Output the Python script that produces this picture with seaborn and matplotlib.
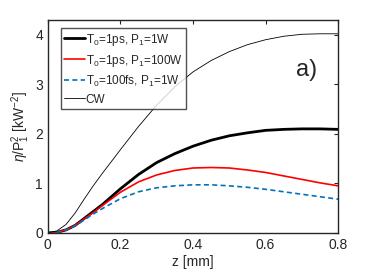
import matplotlib
matplotlib.use("Agg")
import matplotlib.pyplot as plt
import pandas as pd
import seaborn as sns

z = [0, 0.025, 0.05, 0.075, 0.1, 0.125, 0.15, 0.2, 0.25, 0.3, 0.35, 0.4, 0.45, 0.5, 0.55, 0.6, 0.65, 0.7, 0.75, 0.8]
cw = [0, 0.04, 0.17, 0.40, 0.68, 0.95, 1.2, 1.68, 2.15, 2.58, 2.95, 3.25, 3.48, 3.66, 3.8, 3.9, 3.97, 4.01, 4.02, 4.02]
t1ps_1w = [0, 0.01, 0.06, 0.15, 0.29, 0.43, 0.57, 0.89, 1.18, 1.42, 1.6, 1.75, 1.87, 1.96, 2.02, 2.07, 2.09, 2.1, 2.1, 2.09]
t1ps_100w = [0, 0.01, 0.06, 0.15, 0.28, 0.41, 0.55, 0.82, 1.03, 1.17, 1.26, 1.31, 1.32, 1.31, 1.27, 1.22, 1.15, 1.08, 1.01, 0.95]
t100fs_1w = [0, 0.01, 0.06, 0.14, 0.26, 0.38, 0.49, 0.69, 0.83, 0.91, 0.95, 0.97, 0.97, 0.95, 0.92, 0.88, 0.83, 0.78, 0.73, 0.68]

labels = ["T$_0$=1ps, P$_1$=1W", "T$_0$=1ps, P$_1$=100W", "T$_0$=100fs, P$_1$=1W", "CW"]
series = [t1ps_1w, t1ps_100w, t100fs_1w, cw]

df = pd.concat([pd.DataFrame({"z": z, "val": s, "case": lab}) for lab, s in zip(labels, series)])

sns.set_style("white")
plt.rcParams["font.family"] = ["Liberation Sans", "DejaVu Sans"]
plt.rcParams["mathtext.fontset"] = "custom"
plt.rcParams["mathtext.rm"] = "Liberation Sans"
plt.rcParams["mathtext.it"] = "Liberation Sans:italic"

fig, ax = plt.subplots(figsize=(3.74, 2.73), dpi=100)
palette = {labels[0]: "black", labels[1]: "#FF0000", labels[2]: "#0072BD", labels[3]: "black"}
sns.lineplot(data=df, x="z", y="val", hue="case", style="case", palette=palette,
             dashes={labels[0]: "", labels[1]: "", labels[2]: (3, 2), labels[3]: ""},
             size="case", sizes={labels[0]: 2.0, labels[1]: 1.2, labels[2]: 1.2, labels[3]: 0.6},
             ax=ax, legend=True)

ax.set_xlim(0, 0.8)
ax.set_ylim(0, 4.3)
ax.set_xticks([0, 0.2, 0.4, 0.6, 0.8])
ax.set_xticklabels(["0", "0.2", "0.4", "0.6", "0.8"])
ax.set_yticks([0, 1, 2, 3, 4])
ax.tick_params(direction="in", top=True, right=True, length=3, width=0.8, labelsize=10, colors="#262626")
for sp in ax.spines.values():
    sp.set_color("#262626")
    sp.set_linewidth(1.0)
ax.set_xlabel("z [mm]", fontsize=10, color="#262626", labelpad=2)
ax.set_ylabel("$\\eta$/P$_1^2$ [kW$^{-2}$]", fontsize=10, color="#262626", labelpad=2)

leg = ax.legend(loc="upper left", bbox_to_anchor=(0.045, 0.962), borderaxespad=0,
                fontsize=8.5, frameon=True, fancybox=False,
                handlelength=1.7, handletextpad=0.1, borderpad=0.3, labelspacing=0.42)
leg.get_frame().set_edgecolor("#262626")
leg.get_frame().set_linewidth(1.0)

ax.text(0.89, 0.765, "a)", transform=ax.transAxes, fontsize=17, ha="center", va="center")

fig.subplots_adjust(left=0.128, right=0.904, top=0.927, bottom=0.147)
fig.savefig("out.png", dpi=100)
